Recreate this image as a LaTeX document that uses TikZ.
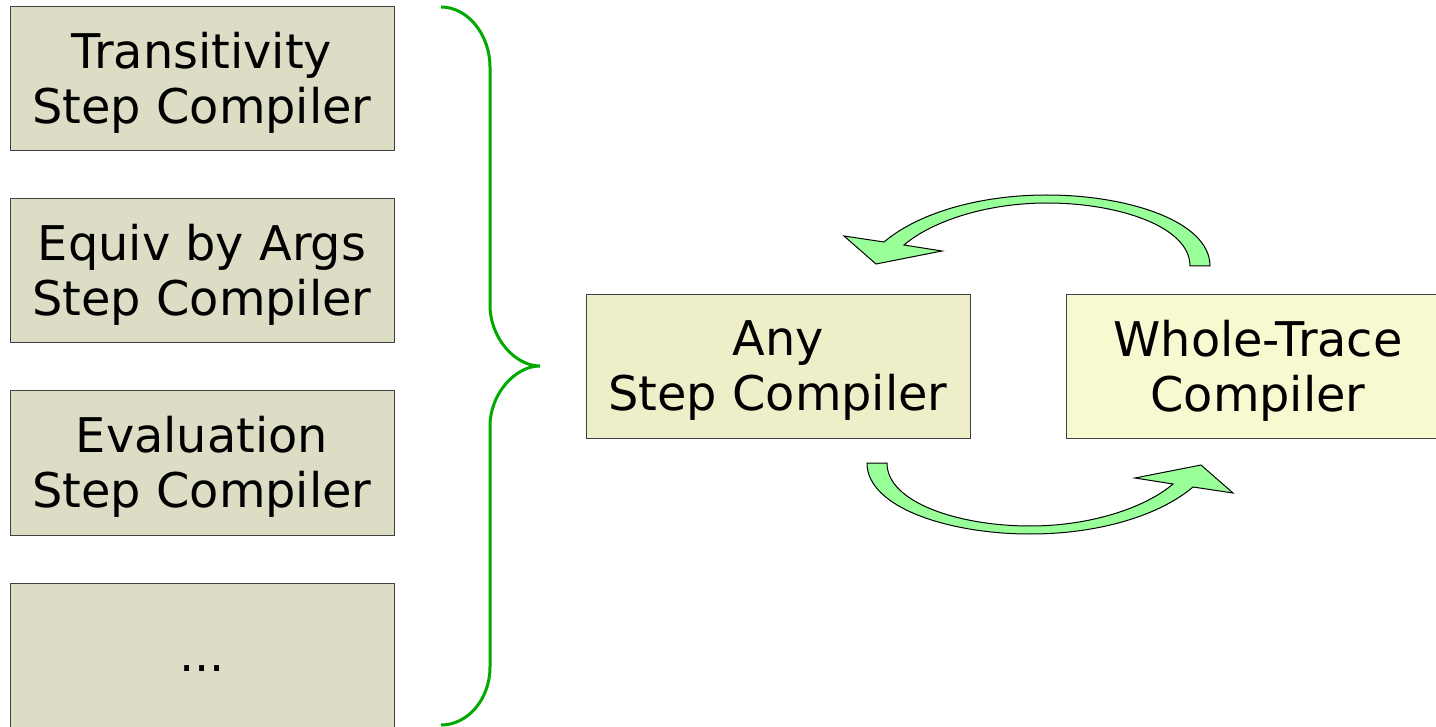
\documentclass[tikz,border=0pt]{standalone}
\usepackage{fontspec}
\setmainfont{DejaVu Sans}
\definecolor{leftfill}{RGB}{221,220,197}
\definecolor{anyfill}{RGB}{238,239,201}
\definecolor{wholefill}{RGB}{248,248,209}
\definecolor{bracegreen}{RGB}{0,170,0}
\definecolor{arrowgreen}{RGB}{153,255,153}
\begin{document}
\begin{tikzpicture}[x=0.5pt,y=-0.5pt,
  box/.style={draw=black!75, line width=0.5pt, minimum width=192pt, minimum height=72pt,
    inner sep=0pt, align=center, font=\fontsize{23.9}{27.5}\selectfont},
  twoline/.style={label={[box, draw=none, fill=none, minimum width=0pt, minimum height=0pt, yshift=-2pt]center:#1}},
  bracestyle/.style={draw=bracegreen, line width=1.5pt},
  bigarrow/.style={fill=arrowgreen, draw=black, line width=0.5pt, line join=miter}]
\useasboundingbox (0,0) rectangle (1436,727);
\clip (0,0) rectangle (1436,727);
\node[box, fill=leftfill, twoline={Transitivity\\Step Compiler}] (t1) at (202,79) {};
\node[box, fill=leftfill, twoline={Equiv by Args\\Step Compiler}] (t2) at (202,271) {};
\node[box, fill=leftfill, text height=22.2pt, text depth=5.6pt] (t4) at (202,655) {...};
\node[box, fill=leftfill, twoline={Evaluation\\Step Compiler}] (t3) at (202,463) {};
\node[box, fill=anyfill, twoline={Any\\Step Compiler}] (any) at (778,366.5) {};
\node[box, fill=wholefill, twoline={Whole-Trace\\Compiler}] (whole) at (1258,366.5) {};
% brace
\draw[bracestyle] (441,7) .. controls (468,7) and (490,35) .. (490,67)
  -- (490,305) .. controls (490,338) and (515,366) .. (540,366)
  .. controls (515,366) and (490,394) .. (490,426)
  -- (490,667) .. controls (490,699) and (468,725) .. (441,725);
% bottom arrow
\path[bigarrow] (867,463) .. controls (867,508) and (950,534) .. (1030,534)
  .. controls (1100,534) and (1160,515) .. (1193,487)
  -- (1233,493) -- (1201,465) -- (1135,478) -- (1173,484)
  .. controls (1145,508) and (1090,526) .. (1030,526)
  .. controls (960,526) and (887,503) .. (887,463) -- cycle;
% top arrow (rotated copy)
\begin{scope}[rotate around={180:(1038.5,364.5)}]
\path[bigarrow] (867,463) .. controls (867,508) and (950,534) .. (1030,534)
  .. controls (1100,534) and (1160,515) .. (1193,487)
  -- (1233,493) -- (1201,465) -- (1135,478) -- (1173,484)
  .. controls (1145,508) and (1090,526) .. (1030,526)
  .. controls (960,526) and (887,503) .. (887,463) -- cycle;
\end{scope}
\end{tikzpicture}
\end{document}
